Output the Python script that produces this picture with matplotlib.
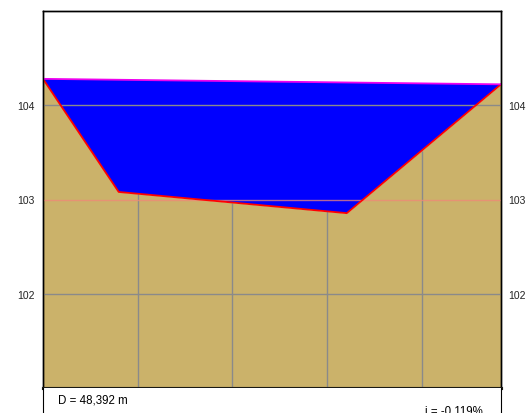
import numpy as np
import matplotlib
matplotlib.use('Agg')
import matplotlib.pyplot as plt

plt.rcParams['font.family'] = ['Liberation Sans', 'DejaVu Sans']

# cross-section terrain (station m, elevation m)
terrain_x = [0.0, 8.0, 32.1, 48.392]
terrain_z = [104.28, 103.08, 102.855, 104.222]

# water surface line
water_x = [0.0, 48.392]
water_z = [104.28, 104.222]

grid_x = [10, 20, 30, 40]
grid_z = [102, 103, 104]
tick_labels = ['102', '103', '104']

length_text = 'D = 48,392 m'
slope_text = 'i = -0,119%'

fig = plt.figure(figsize=(5.29, 4.14), dpi=100)
ax = fig.add_axes([43 / 529, 1 - 389 / 414, 458 / 529, 377 / 414])

ymin, ymax = 101, 105

# ground
ax.fill_between(terrain_x, terrain_z, ymin, color='#cbb26a', lw=0, zorder=1)

# station lines up to the ground
top = np.interp(grid_x, terrain_x, terrain_z)
ax.vlines(grid_x, ymin, top, color='#8a8a8a', lw=1, zorder=2)

# water body
poly_x = list(terrain_x) + water_x[::-1]
poly_z = list(terrain_z) + water_z[::-1]
ax.fill(poly_x, poly_z, color='#0000ff', lw=0, zorder=3)

# horizontal levels
for z in grid_z:
    if z == 103:
        ax.axhline(z, color='#f08878', lw=1, alpha=0.75, zorder=4)
    else:
        ax.axhline(z, color='#8a8a8a', lw=1, zorder=4)

ax.plot(terrain_x, terrain_z, color='#ff0000', lw=1.3, zorder=5)
ax.plot(water_x, water_z, color='#ee00ee', lw=1.3, zorder=5)

ax.set_xlim(0, 48.392)
ax.set_ylim(ymin, ymax)
ax.set_xticks([])
ax.set_yticks(grid_z)
ax.set_yticklabels(tick_labels)
ax.tick_params(axis='y', length=0, labelsize=7.5, pad=6.3, labelcolor='#222222')

# right-hand labels, a bit closer to the frame
ax_r = ax.twinx()
ax_r.set_ylim(ymin, ymax)
ax_r.set_yticks(grid_z)
ax_r.set_yticklabels(tick_labels)
ax_r.tick_params(axis='y', length=0, labelsize=7.5, pad=5.2, labelcolor='#222222')

for a in (ax, ax_r):
    for s in ['left', 'right', 'top']:
        a.spines[s].set_linewidth(1)
        a.spines[s].set_color('black')
    a.spines['bottom'].set_linewidth(2.2)
    a.spines['bottom'].set_color('#1a1a14')

# info strip below the section
info = fig.add_axes([43 / 529, 0, 458 / 529, 25 / 414])
info.set_xlim(0, 1)
info.set_ylim(0, 1)
info.set_xticks([])
info.set_yticks([])
info.spines['top'].set_visible(False)
info.spines['bottom'].set_visible(False)
info.text(0.032, 0.4, length_text, fontsize=8.3, va='baseline', ha='left')
info.text(0.834, -0.02, slope_text, fontsize=8.3, va='baseline', ha='left')

fig.savefig('out.png', dpi=100)
